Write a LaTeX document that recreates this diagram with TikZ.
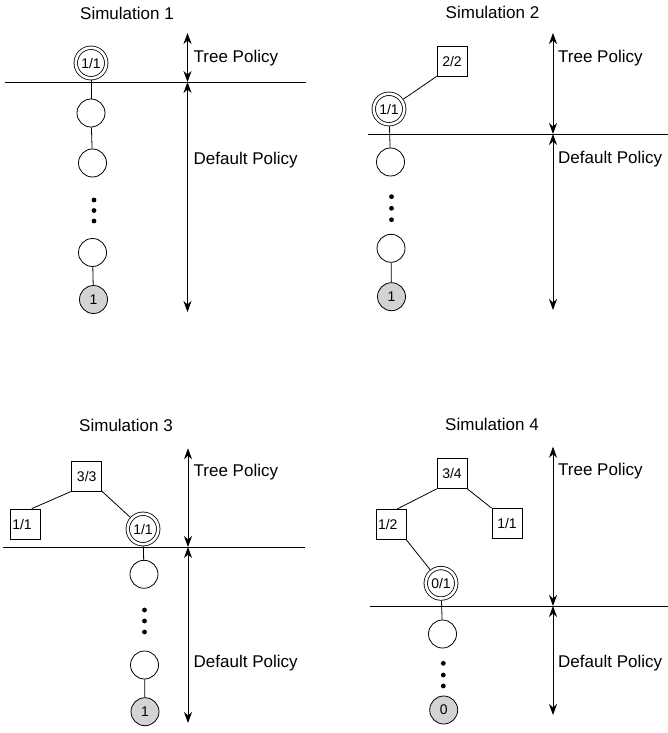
\documentclass[tikz,border=0pt]{standalone}
\usepackage{fontspec}
\setmainfont{Liberation Sans}
\usetikzlibrary{arrows.meta}
\definecolor{leafgray}{RGB}{211,211,211}
\begin{document}
\begin{tikzpicture}[x=1pt,y=-1pt,
  every node/.style={inner sep=0pt},
  edge/.style={line width=0.8pt},
  circ/.style={draw, circle, line width=0.8pt, minimum size=28pt, inner sep=0pt},
  leaf/.style={circ, fill=leafgray, font=\fontsize{14}{16}\selectfont},
  dcirc/.style={draw, circle, line width=0.8pt, double, double distance=2.6pt, minimum size=30.5pt, outer sep=2.1pt, font=\fontsize{14}{16}\selectfont},
  sq/.style={draw, rectangle, line width=0.8pt, minimum size=30pt, font=\fontsize{14}{16}\selectfont},
  sqleft/.style={sq, text width=26pt, align=left},
  title/.style={anchor=base, font=\fontsize{17}{20}\selectfont},
  lab/.style={anchor=base west, font=\fontsize{17}{20}\selectfont},
  dot/.style={circle, fill=black, minimum size=4.8pt},
  sep/.style={line width=0.95pt},
  pol/.style={line width=0.8pt, {Stealth[length=11pt,width=8pt,inset=3.5pt]}-{Stealth[length=11pt,width=8pt,inset=3.5pt]}},
]
\useasboundingbox (0,0) rectangle (668,733);

% ---------- Panel 1 ----------
\node[title] (t1) at (127,19.5) {Simulation 1};
\node[dcirc] (p1r) at (91,63) {1/1};
\node[circ] (p1a) at (91,113) {};
\node[circ] (p1b) at (92.5,163) {};
\node[dot] (p1d1) at (94,200) {};
\node[dot] (p1d2) at (94,210.5) {};
\node[dot] (p1d3) at (94,221) {};
\node[circ] (p1c) at (92.5,252.5) {};
\node[leaf] (p1l) at (93.5,299.5) {1};
\draw[edge] (p1r) -- (p1a);
\draw[edge] (p1a) -- (p1b);
\draw[edge] (p1c) -- (p1l);
\coordinate (p1h0) at (5,82);
\coordinate (p1h1) at (306,82);
\draw[sep] (p1h0) -- (p1h1);
\coordinate (p1top) at (187.5,33);
\coordinate (p1mid) at (187.5,82);
\coordinate (p1bot) at (187.5,312);
\draw[pol] (p1top) -- (p1mid);
\draw[pol] (p1mid) -- (p1bot);
\node[lab] (p1tp) at (193.5,63) {Tree Policy};
\node[lab] (p1dp) at (193.5,164) {Default Policy};

% ---------- Panel 2 ----------
\node[title] (t2) at (492.5,18.5) {Simulation 2};
\node[sq] (p2s) at (452,61) {2/2};
\node[dcirc] (p2r) at (389,109) {1/1};
\node[circ] (p2a) at (390.5,162) {};
\node[dot] (p2d1) at (391.5,196.7) {};
\node[dot] (p2d2) at (391.5,208.3) {};
\node[dot] (p2d3) at (391.5,219.7) {};
\node[circ] (p2c) at (391,248.3) {};
\node[leaf] (p2l) at (391.5,296.7) {1};
\draw[edge] (p2r) -- (p2s.south west);
\draw[edge] (p2r) -- (p2a);
\draw[edge] (p2c) -- (p2l);
\coordinate (p2h0) at (368,134);
\coordinate (p2h1) at (668,134);
\draw[sep] (p2h0) -- (p2h1);
\coordinate (p2top) at (553,33);
\coordinate (p2mid) at (553,134);
\coordinate (p2bot) at (553,310);
\draw[pol] (p2top) -- (p2mid);
\draw[pol] (p2mid) -- (p2bot);
\node[lab] (p2tp) at (558,62.5) {Tree Policy};
\node[lab] (p2dp) at (558,163) {Default Policy};

% ---------- Panel 3 ----------
\node[title] (t3) at (126,431.5) {Simulation 3};
\node[sq] (p3s) at (86.7,476) {3/3};
\node[sqleft] (p3a) at (25.3,524) {1/1};
\node[dcirc] (p3r) at (143,529) {1/1};
\node[circ] (p3c1) at (144,574.3) {};
\node[dot] (p3d1) at (144.5,610) {};
\node[dot] (p3d2) at (144.5,621) {};
\node[dot] (p3d3) at (144.5,632) {};
\node[circ] (p3c2) at (144.5,665) {};
\node[leaf] (p3l) at (145,711.7) {1};
\draw[edge] (p3s.south west) -- ([xshift=6.5pt]p3a.north);
\draw[edge] (p3s.south east) -- (p3r);
\draw[edge] (p3r) -- (p3c1);
\draw[edge] (p3c2) -- (p3l);
\coordinate (p3h0) at (3,547);
\coordinate (p3h1) at (305,547);
\draw[sep] (p3h0) -- (p3h1);
\coordinate (p3top) at (188,448.3);
\coordinate (p3mid) at (188,547);
\coordinate (p3bot) at (188,723);
\draw[pol] (p3top) -- (p3mid);
\draw[pol] (p3mid) -- (p3bot);
\node[lab] (p3tp) at (193.5,476.7) {Tree Policy};
\node[lab] (p3dp) at (193.5,667.3) {Default Policy};

% ---------- Panel 4 ----------
\node[title] (t4) at (492,430.7) {Simulation 4};
\node[sq] (p4s) at (452,473.5) {3/4};
\node[sqleft] (p4a) at (391,524.5) {1/2};
\node[sq] (p4b) at (507,523.5) {1/1};
\node[dcirc] (p4r) at (441,583.3) {0/1};
\node[circ] (p4c) at (442.5,634) {};
\node[dot] (p4d1) at (443.3,663.3) {};
\node[dot] (p4d2) at (443.3,675) {};
\node[dot] (p4d3) at (443.3,686) {};
\node[leaf] (p4l) at (443.7,710) {0};
\draw[edge] (p4s.south west) -- ([xshift=6pt]p4a.north);
\draw[edge] (p4s.south east) -- (p4b.north west);
\draw[edge] (p4a.south east) -- (p4r);
\draw[edge] (p4r) -- (p4c);
\coordinate (p4h0) at (370,606);
\coordinate (p4h1) at (668,606);
\draw[sep] (p4h0) -- (p4h1);
\coordinate (p4top) at (553,446.7);
\coordinate (p4mid) at (553,606);
\coordinate (p4bot) at (553,715);
\draw[pol] (p4top) -- (p4mid);
\draw[pol] (p4mid) -- (p4bot);
\node[lab] (p4tp) at (558,475.7) {Tree Policy};
\node[lab] (p4dp) at (558,667.3) {Default Policy};
\end{tikzpicture}
\end{document}
